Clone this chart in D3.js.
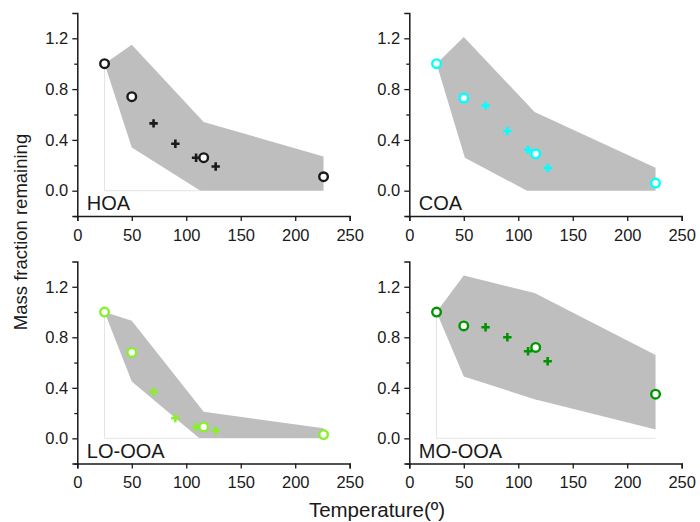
<!DOCTYPE html>
<html>
<head>
<meta charset="utf-8">
<script src="https://cdn.jsdelivr.net/npm/d3@7"></script>
<style>
  body { margin: 0; background: #fff; }
  svg { display: block; font-family: "Liberation Sans", Arial, sans-serif; }
</style>
</head>
<body>
<svg id="chart" width="700" height="522"></svg>
<script>
// Factor names and marker colours
const factors = ["HOA", "COA", "LO-OOA", "MO-OOA"];
const colors = ["#1a1a1a", "#00ffff", "#88f028", "#009400"];

// Thermodenuder temperatures (°C)
const circleTemps = [25, 50, 116, 226];
const crossTemps = [70, 90, 109, 127];

// Mass fraction remaining at the circle temperatures
const hoaCircles = [1.0, 0.74, 0.26, 0.11];
const coaCircles = [1.0, 0.73, 0.29, 0.06];
const looCircles = [1.0, 0.68, 0.09, 0.03];
const mooCircles = [1.0, 0.89, 0.72, 0.35];

// Mass fraction remaining at the cross temperatures
const hoaCrosses = [0.53, 0.37, 0.26, 0.19];
const coaCrosses = [0.67, 0.47, 0.32, 0.18];
const looCrosses = [0.37, 0.16, 0.09, 0.06];
const mooCrosses = [0.88, 0.80, 0.69, 0.61];

// Uncertainty envelopes: [temperature, fraction] vertices
const hoaBand = [[25,1.0],[50,1.15],[116,0.54],[226,0.27],[226,0],[113,0],[50,0.34]];
const coaBand = [[25,1.0],[50,1.21],[115,0.62],[226,0.18],[226,0],[108,0],[51,0.26]];
const looBand = [[25,1.0],[50,0.93],[116,0.21],[226,0.08],[226,0],[112,0],[50,0.45]];
const mooBand = [[25,1.0],[50,1.29],[115,1.15],[226,0.66],[226,0.07],[115,0.31],[50,0.49]];

// Faint baseline traces under the envelopes
const hoaBase = [[25,1.0],[25,0],[113,0]];
const coaBase = [];
const looBase = [[25,1.0],[25,0],[112,0]];
const mooBase = [[25,1.0],[25,0],[226,0]];

const xTicks = [0, 50, 100, 150, 200, 250];
const yTicks = [0, 0.4, 0.8, 1.2];
const yMinor = [-0.2, 0.2, 0.6, 1.0];

const panels = [
  { name: factors[0], color: colors[0], circles: hoaCircles, crosses: hoaCrosses, band: hoaBand, base: hoaBase, col: 0, row: 0 },
  { name: factors[1], color: colors[1], circles: coaCircles, crosses: coaCrosses, band: coaBand, base: coaBase, col: 1, row: 0 },
  { name: factors[2], color: colors[2], circles: looCircles, crosses: looCrosses, band: looBand, base: looBase, col: 0, row: 1 },
  { name: factors[3], color: colors[3], circles: mooCircles, crosses: mooCrosses, band: mooBand, base: mooBase, col: 1, row: 1 }
];

const svg = d3.select("#chart");
const colX = [[77.3, 349.7], [409.3, 681.7]];
const rowY = [[216.1, 12.9], [463.6, 261.5]];
const axisColor = "#1a1a1a";

panels.forEach(p => {
  const x = d3.scaleLinear().domain([0, 250]).range(colX[p.col]);
  const y = d3.scaleLinear().domain([-0.2, 1.4]).range(rowY[p.row]);
  const g = svg.append("g");

  // envelope
  g.append("path")
    .attr("d", d3.line().x(d => x(d[0])).y(d => y(d[1]))(p.band) + "Z")
    .attr("fill", "#bebebe");

  if (p.base.length) {
    g.append("path")
      .attr("d", d3.line().x(d => x(d[0])).y(d => y(d[1]))(p.base))
      .attr("fill", "none")
      .attr("stroke", "#e4e4e4")
      .attr("stroke-width", 1);
  }

  // x axis
  const xa = g.append("g")
    .attr("transform", `translate(0,${y(-0.2)})`)
    .call(d3.axisBottom(x).tickValues(xTicks).tickSize(5).tickPadding(8).tickFormat(d3.format("d")));
  // y axis
  const ya = g.append("g")
    .attr("transform", `translate(${x(0)},0)`)
    .call(d3.axisLeft(y).tickValues(yTicks).tickSize(5).tickPadding(4).tickFormat(d3.format(".1f")));
  g.append("g")
    .attr("transform", `translate(${x(0)},0)`)
    .call(d3.axisLeft(y).tickValues(yMinor).tickSize(3).tickFormat(""))
    .call(a => a.select(".domain").remove());

  [xa, ya].forEach(a => {
    a.select(".domain").attr("stroke", axisColor).attr("stroke-width", 1.5);
    a.selectAll(".tick text").attr("fill", "#1a1a1a").style("font-size", "16.5px")
      .style("font-family", "'Liberation Sans', Arial, sans-serif");
  });
  g.selectAll(".tick line").attr("stroke", axisColor).attr("stroke-width", 1.3);

  // crosses
  const arm = 4.2;
  g.selectAll(".cross").data(crossTemps.map((t, i) => [t, p.crosses[i]]))
    .enter().append("path")
    .attr("d", d => {
      const cx = x(d[0]), cy = y(d[1]);
      return `M${cx - arm},${cy}H${cx + arm}M${cx},${cy - arm}V${cy + arm}`;
    })
    .attr("stroke", p.color)
    .attr("stroke-width", 2.6);

  // circles
  g.selectAll(".circ").data(circleTemps.map((t, i) => [t, p.circles[i]]))
    .enter().append("circle")
    .attr("cx", d => x(d[0]))
    .attr("cy", d => y(d[1]))
    .attr("r", 4.3)
    .attr("fill", "#fff")
    .attr("stroke", p.color)
    .attr("stroke-width", 2.4);

  // panel label
  g.append("text")
    .attr("x", x(0) + 9.5)
    .attr("y", y(-0.2) - 6)
    .attr("fill", "#1a1a1a")
    .style("font-size", "20px")
    .text(p.name);
});

svg.append("text")
  .attr("transform", "translate(27,232) rotate(-90)")
  .attr("text-anchor", "middle")
  .attr("fill", "#1a1a1a")
  .style("font-size", "18.5px")
  .text("Mass fraction remaining");

svg.append("text")
  .attr("x", 377)
  .attr("y", 516.5)
  .attr("text-anchor", "middle")
  .attr("fill", "#1a1a1a")
  .style("font-size", "20.5px")
  .text("Temperature(º)");
</script>
</body>
</html>
